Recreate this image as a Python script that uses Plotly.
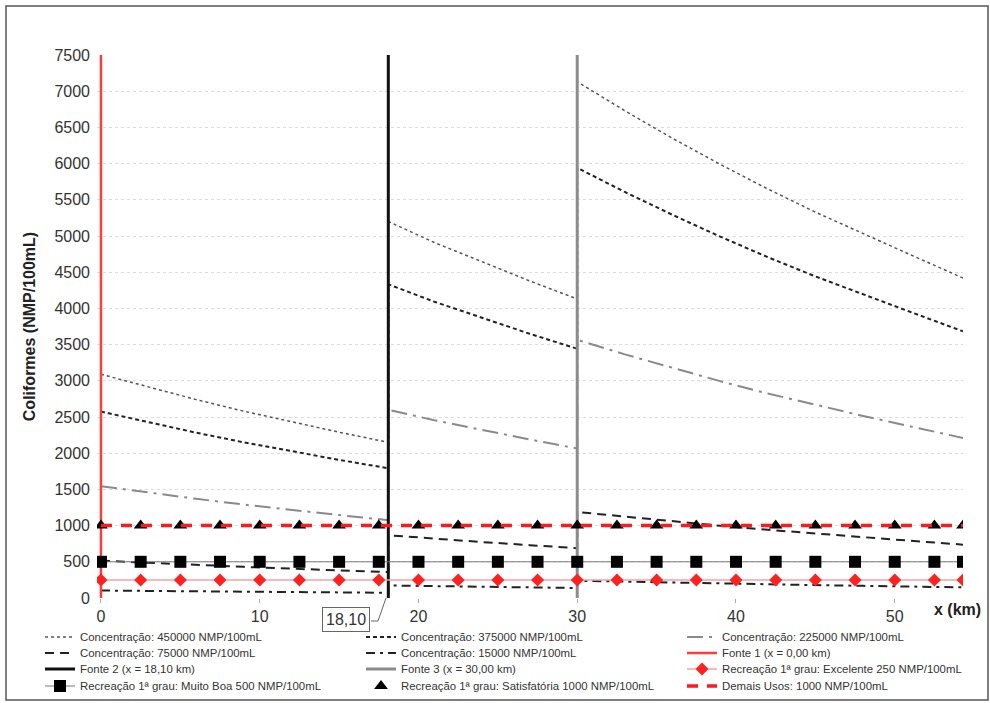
import plotly.graph_objects as go

# ---- data ----
x_curve = [0, 3, 6, 9, 12, 15, 18.1,
           18.1, 21, 24, 27, 30,
           30, 33, 36, 39, 42, 45, 48, 51, 54.3]
c450000 = [3090, 2910, 2740, 2580, 2430, 2290, 2150,
           5200, 4910, 4640, 4380, 4130,
           7130, 6730, 6350, 5990, 5650, 5330, 5030, 4740, 4420]
c375000 = [2575, 2425, 2283, 2150, 2025, 1908, 1792,
           4333, 4092, 3867, 3650, 3442,
           5942, 5608, 5292, 4992, 4708, 4442, 4192, 3950, 3683]
c225000 = [1545, 1455, 1370, 1290, 1215, 1145, 1075,
           2600, 2455, 2320, 2190, 2065,
           3565, 3365, 3175, 2995, 2825, 2665, 2515, 2370, 2210]
c75000 = [515, 485, 457, 430, 405, 382, 358,
          867, 818, 773, 730, 688,
          1188, 1122, 1058, 998, 942, 888, 838, 790, 737]
c15000 = [103, 97, 91, 86, 81, 76, 72,
          173, 164, 155, 146, 138,
          238, 224, 212, 200, 188, 178, 168, 158, 147]

fonte_x = [0.0, 18.10, 30.0]
fonte_y = [0, 7500]

x_marks = [0, 2.5, 5, 7.5, 10, 12.5, 15, 17.5, 20, 22.5, 25, 27.5, 30,
           32.5, 35, 37.5, 40, 42.5, 45, 47.5, 50, 52.5, 54.3]
lim_excelente = 250
lim_muito_boa = 500
lim_satisfatoria = 1000
lim_demais = 1000

x_ticks = [0, 10, 20, 30, 40, 50]
y_ticks = list(range(0, 7501, 500))

FONT = "Liberation Sans, Arial, sans-serif"
fig = go.Figure()

def curve(name, y, color, dash, width, lg):
    fig.add_trace(go.Scatter(x=x_curve, y=y, mode="lines", name=name, legend=lg,
                             line=dict(color=color, dash=dash, width=width)))

curve("Concentração: 450000 NMP/100mL", c450000, "#555555", "dot", 1.5, "legend")
curve("Concentração: 375000 NMP/100mL", c375000, "#222222", "4px,3px", 2, "legend")
curve("Concentração: 225000 NMP/100mL", c225000, "#8a8a8a", "16px,6px,3px,6px", 2, "legend")
curve("Concentração: 75000 NMP/100mL", c75000, "#222222", "9px,6px", 2, "legend2")
curve("Concentração: 15000 NMP/100mL", c15000, "#222222", "9px,5px,3px,5px", 2, "legend2")

fig.add_trace(go.Scatter(x=[fonte_x[0]] * 2, y=fonte_y, mode="lines",
                         name="Fonte 1 (x = 0,00 km)", legend="legend2",
                         line=dict(color="#ff3b3b", width=2.5)))
fig.add_trace(go.Scatter(x=[fonte_x[1]] * 2, y=fonte_y, mode="lines",
                         name="Fonte 2 (x = 18,10 km)", legend="legend3",
                         line=dict(color="#111111", width=3)))
fig.add_trace(go.Scatter(x=[fonte_x[2]] * 2, y=fonte_y, mode="lines",
                         name="Fonte 3 (x = 30,00 km)", legend="legend3",
                         line=dict(color="#8c8c8c", width=3)))

n = len(x_marks)
fig.add_trace(go.Scatter(x=x_marks, y=[lim_excelente] * n, mode="lines+markers",
                         name="Recreação 1ª grau: Excelente 250 NMP/100mL", legend="legend3",
                         line=dict(color="#f5a3a3", width=1.5),
                         marker=dict(symbol="diamond", size=10, color="#ff2020")))
fig.add_trace(go.Scatter(x=x_marks, y=[lim_muito_boa] * n, mode="lines+markers",
                         name="Recreação 1ª grau: Muito Boa 500 NMP/100mL", legend="legend4",
                         line=dict(color="#777777", width=1),
                         marker=dict(symbol="square", size=12, color="#000000")))
fig.add_trace(go.Scatter(x=x_marks, y=[lim_satisfatoria] * n, mode="markers",
                         name="Recreação 1ª grau: Satisfatória 1000 NMP/100mL", legend="legend4",
                         marker=dict(symbol="triangle-up", size=12, color="#000000")))
fig.add_trace(go.Scatter(x=x_marks, y=[lim_demais] * n, mode="lines",
                         name="Demais Usos: 1000 NMP/100mL", legend="legend4",
                         line=dict(color="#ff1a1a", width=3.5, dash="11px,9px")))

# plot area geometry (px)
L, R, T, B = 97, 963, 55, 598
W, H = R - L, B - T
def px(xp): return (xp - L) / W
def py(yp): return (B - yp) / H

def leg(yc):
    return dict(orientation="h", x=px(40), y=py(yc), xanchor="left", yanchor="middle",
                entrywidth=276, entrywidthmode="pixels",
                font=dict(size=11.4, color="#333333"),
                itemwidth=30, bgcolor="rgba(0,0,0,0)")

fig.update_layout(
    width=990, height=703,
    margin=dict(l=L, r=990 - R, t=T, b=703 - B, autoexpand=False),
    paper_bgcolor="white", plot_bgcolor="white",
    font=dict(family=FONT, color="#333333"),
    showlegend=True,
    legend=leg(637), legend2=leg(653), legend3=leg(669), legend4=leg(686),
    xaxis=dict(range=[-0.25, 54.3], tickvals=x_ticks, ticktext=[str(v) for v in x_ticks],
               showgrid=False, zeroline=False, showline=False,
               ticks="outside", ticklen=4, tickcolor="#aaaaaa",
               tickfont=dict(size=16, color="#333333")),
    yaxis=dict(range=[0, 7500], tickvals=y_ticks, ticktext=[str(v) for v in y_ticks],
               showgrid=True, gridcolor="#dcdcdc", griddash="dot", gridwidth=1,
               zeroline=False, showline=False, ticks="", ticklabelstandoff=6,
               tickfont=dict(size=16, color="#333333"),
               title=dict(text="<b>Coliformes (NMP/100mL)</b>",
                          font=dict(size=16, color="#222222"), standoff=14)),
)

fig.add_annotation(x=px(983), y=py(620), xref="paper", yref="paper",
                   text="<b>x (km)</b>", showarrow=False, xanchor="right",
                   font=dict(size=16, color="#222222"))
fig.add_annotation(x=px(346), y=py(619), xref="paper", yref="paper",
                   text="18,10", showarrow=False, xanchor="center", yanchor="middle",
                   bordercolor="#666666", borderwidth=1, borderpad=3, bgcolor="white",
                   font=dict(size=16, color="#333333"))
fig.add_shape(type="path", xref="paper", yref="paper",
              path=f"M {px(371)} {py(621)} L {px(378)} {py(621)} L {px(386)} {py(598)}",
              line=dict(color="#666666", width=1))
# outer frame
fig.add_shape(type="rect", xref="paper", yref="paper",
              x0=px(6), x1=px(988), y0=py(700), y1=py(6),
              line=dict(color="#555555", width=1.5))

fig.write_html("out.html")
